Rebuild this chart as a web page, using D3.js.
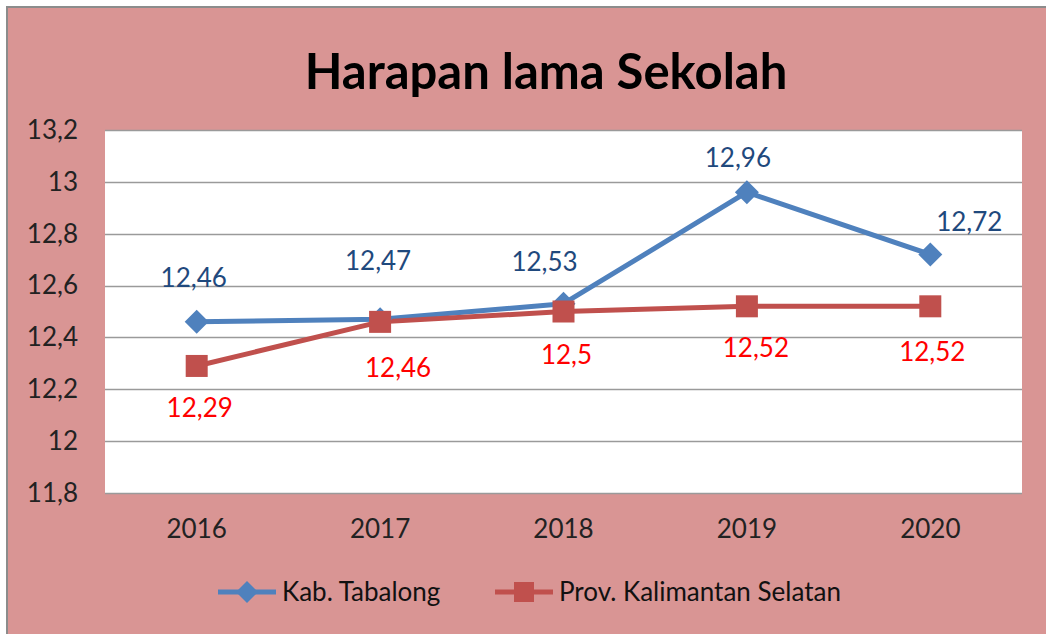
<!DOCTYPE html>
<html>
<head>
<meta charset="utf-8">
<script src="https://cdn.jsdelivr.net/npm/d3@7"></script>
<style>
  body { margin: 0; background: #fff; }
  text { font-family: Lato, "Open Sans", sans-serif; }
</style>
</head>
<body>
<div id="chart"></div>
<script>
// data
var years = ["2016", "2017", "2018", "2019", "2020"];
var tabalong = [12.46, 12.47, 12.53, 12.96, 12.72];
var kalsel = [12.29, 12.46, 12.5, 12.52, 12.52];
var yTicks = [11.8, 12, 12.2, 12.4, 12.6, 12.8, 13, 13.2];

// hand-placed label offsets (like the original)
var tabOffsets = [[-3, -44], [-2, -58], [-19, -42], [-9, -34], [39, -33]];
var kalOffsets = [[3, 42], [18, 46], [3, 43], [9, 42], [2, 46]];

var W = 1046, H = 634;
var svg = d3.select("#chart")
  .append("svg")
  .attr("width", W)
  .attr("height", H);

// chart background with left/top border
svg.append("rect")
  .attr("x", 6).attr("y", 6)
  .attr("width", W - 6).attr("height", H - 6)
  .style("fill", "#D99594");
svg.append("path")
  .attr("d", "M7," + H + "V7H" + W)
  .style("fill", "none")
  .style("stroke", "#8c8c8c")
  .style("stroke-width", 2);

var plot = { left: 105, top: 130, right: 1022, bottom: 493 };

var x = d3.scaleBand()
  .domain(years)
  .range([plot.left, plot.right]);

var y = d3.scaleLinear()
  .domain([11.8, 13.2])
  .range([plot.bottom, plot.top]);

var fmt = function(v) { return String(v).replace(".", ","); };

// plot area
svg.append("rect")
  .attr("x", plot.left).attr("y", plot.top)
  .attr("width", plot.right - plot.left)
  .attr("height", plot.bottom - plot.top)
  .style("fill", "#fff");

// gridlines
svg.append("g")
  .selectAll("line")
  .data(yTicks)
  .enter()
  .append("line")
  .attr("x1", plot.left).attr("x2", plot.right)
  .attr("y1", function(d) { return Math.round(y(d)) + 0.5; })
  .attr("y2", function(d) { return Math.round(y(d)) + 0.5; })
  .style("stroke", "#9a9a9a")
  .style("stroke-width", 1.5);

// y axis
var yAxis = svg.append("g")
  .attr("transform", "translate(" + (plot.left - 27) + ",0)")
  .call(d3.axisLeft(y).tickValues(yTicks).tickFormat(fmt).tickSize(0).tickPadding(0));
yAxis.select(".domain").remove();
yAxis.selectAll("text")
  .style("font-family", "Lato, sans-serif")
  .style("font-size", "26px")
  .style("fill", "#222");

// x axis
var xAxis = svg.append("g")
  .attr("transform", "translate(0," + plot.bottom + ")")
  .call(d3.axisBottom(x).tickSize(0).tickPadding(27));
xAxis.select(".domain").remove();
xAxis.selectAll("text")
  .style("font-family", "Lato, sans-serif")
  .style("font-size", "26px")
  .style("fill", "#222");

var cx = function(d, i) { return x(years[i]) + x.bandwidth() / 2; };

var line = d3.line()
  .x(function(d, i) { return x(years[i]) + x.bandwidth() / 2; })
  .y(function(d) { return y(d); });

// Kab. Tabalong
svg.append("path")
  .datum(tabalong)
  .attr("d", line)
  .style("fill", "none")
  .style("stroke", "#4F81BD")
  .style("stroke-width", 5)
  .style("stroke-linejoin", "round");

// Prov. Kalimantan Selatan
svg.append("path")
  .datum(kalsel)
  .attr("d", line)
  .style("fill", "none")
  .style("stroke", "#C0504D")
  .style("stroke-width", 5)
  .style("stroke-linejoin", "round");

svg.append("g")
  .selectAll("path")
  .data(tabalong)
  .enter()
  .append("path")
  .attr("d", "M0,-12L12,0L0,12L-12,0Z")
  .attr("transform", function(d, i) { return "translate(" + cx(d, i) + "," + y(d) + ")"; })
  .style("fill", "#4F81BD");

svg.append("g")
  .selectAll("rect")
  .data(kalsel)
  .enter()
  .append("rect")
  .attr("x", function(d, i) { return cx(d, i) - 11; })
  .attr("y", function(d) { return y(d) - 11; })
  .attr("width", 22).attr("height", 22)
  .style("fill", "#C0504D");

// data labels
svg.append("g")
  .selectAll("text")
  .data(tabalong)
  .enter()
  .append("text")
  .attr("x", function(d, i) { return cx(d, i) + tabOffsets[i][0]; })
  .attr("y", function(d, i) { return y(d) + tabOffsets[i][1]; })
  .attr("text-anchor", "middle")
  .attr("dy", "0.35em")
  .style("font-size", "26px")
  .style("fill", "#1F497D")
  .text(fmt);

svg.append("g")
  .selectAll("text")
  .data(kalsel)
  .enter()
  .append("text")
  .attr("x", function(d, i) { return cx(d, i) + kalOffsets[i][0]; })
  .attr("y", function(d, i) { return y(d) + kalOffsets[i][1]; })
  .attr("text-anchor", "middle")
  .attr("dy", "0.35em")
  .style("font-size", "26px")
  .style("fill", "#FF0000")
  .text(fmt);

// title
svg.append("text")
  .attr("x", 546)
  .attr("y", 89)
  .attr("text-anchor", "middle")
  .style("font-size", "49px")
  .style("font-weight", "bold")
  .style("fill", "#000")
  .text("Harapan lama Sekolah");

// legend
var legendItems = [
  { name: "Kab. Tabalong", color: "#4F81BD", shape: "diamond", x: 218 },
  { name: "Prov. Kalimantan Selatan", color: "#C0504D", shape: "square", x: 495 }
];
var lg = svg.append("g")
  .selectAll("g")
  .data(legendItems)
  .enter()
  .append("g")
  .attr("transform", function(d) { return "translate(" + d.x + ",592)"; });
lg.append("line")
  .attr("x1", 0).attr("x2", 58)
  .style("stroke", function(d) { return d.color; })
  .style("stroke-width", 5);
lg.append("path")
  .attr("d", function(d) {
    return d.shape === "diamond" ? "M29,-11L40,0L29,11L18,0Z" : "M19,-10H39V10H19Z";
  })
  .style("fill", function(d) { return d.color; });
lg.append("text")
  .attr("x", 64)
  .attr("dy", "0.35em")
  .style("font-size", "26px")
  .style("fill", "#111")
  .text(function(d) { return d.name; });
</script>
</body>
</html>
